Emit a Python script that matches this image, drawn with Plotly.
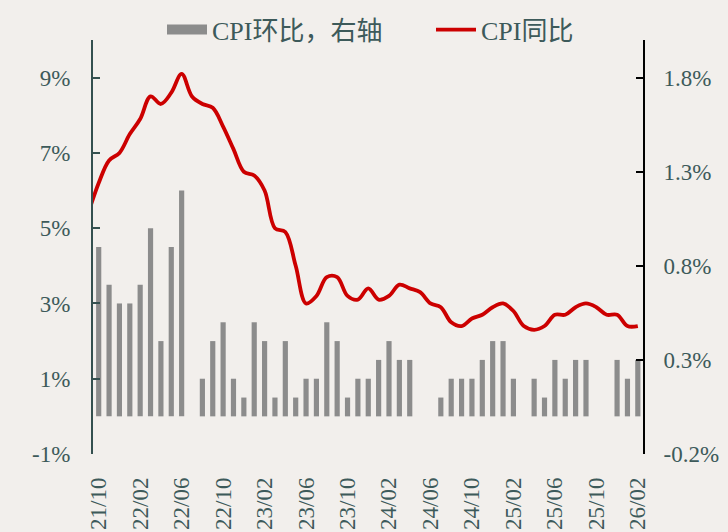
import plotly.graph_objects as go

# Months (index 0 = 21/09, lies just outside the visible range)
months = ["21/09", "21/10", "21/11", "21/12",
          "22/01", "22/02", "22/03", "22/04", "22/05", "22/06", "22/07", "22/08", "22/09", "22/10", "22/11", "22/12",
          "23/01", "23/02", "23/03", "23/04", "23/05", "23/06", "23/07", "23/08", "23/09", "23/10", "23/11", "23/12",
          "24/01", "24/02", "24/03", "24/04", "24/05", "24/06", "24/07", "24/08", "24/09", "24/10", "24/11", "24/12",
          "25/01", "25/02", "25/03", "25/04", "25/05", "25/06", "25/07", "25/08", "25/09", "25/10", "25/11", "25/12",
          "26/01", "26/02"]

# CPI year-over-year (%), left axis
cpi_yoy = [5.4, 6.2, 6.8, 7.0,
           7.5, 7.9, 8.5, 8.3, 8.6, 9.1, 8.5, 8.3, 8.2, 7.7, 7.1, 6.5,
           6.4, 6.0, 5.0, 4.9, 4.0, 3.0, 3.2, 3.7, 3.7, 3.2, 3.1, 3.4,
           3.1, 3.2, 3.5, 3.4, 3.3, 3.0, 2.9, 2.5, 2.4, 2.6, 2.7, 2.9,
           3.0, 2.8, 2.4, 2.3, 2.4, 2.7, 2.7, 2.9, 3.0, 2.9, 2.7, 2.7,
           2.4, 2.4]

# CPI month-over-month (%), right axis
cpi_mom = [0.4, 0.9, 0.7, 0.6,
           0.6, 0.7, 1.0, 0.4, 0.9, 1.2, 0.0, 0.2, 0.4, 0.5, 0.2, 0.1,
           0.5, 0.4, 0.1, 0.4, 0.1, 0.2, 0.2, 0.5, 0.4, 0.1, 0.2, 0.2,
           0.3, 0.4, 0.3, 0.3, 0.0, 0.0, 0.1, 0.2, 0.2, 0.2, 0.3, 0.4,
           0.4, 0.2, 0.0, 0.2, 0.1, 0.3, 0.2, 0.3, 0.3, None, None, 0.3,
           0.2, 0.3]

x_tick_labels = ["21/10", "22/02", "22/06", "22/10", "23/02", "23/06", "23/10",
                 "24/02", "24/06", "24/10", "25/02", "25/06", "25/10", "26/02"]
left_ticks = [-1, 1, 3, 5, 7, 9]
left_tick_text = ["-1%", "1%", "3%", "5%", "7%", "9%"]
right_ticks = [-0.2, 0.3, 0.8, 1.3, 1.8]
right_tick_text = ["-0.2%", "0.3%", "0.8%", "1.3%", "1.8%"]
boundary_ticks = [4.5, 8.5, 12.5, 16.5, 20.5, 24.5, 28.5, 32.5, 36.5, 40.5, 44.5, 48.5, 52.5]

SLATE = "#34504f"
TXT = "#3d5a5a"
BG = "#f2efec"
BAR = "#8c8c8c"
FONT = "Liberation Serif, Noto Sans CJK SC, serif"
XR = [0.45, 53.5]

fig = go.Figure()
fig.add_trace(go.Bar(x=months, y=cpi_mom, name="CPI环比，右轴", yaxis="y2", showlegend=False,
                     marker=dict(color=BAR, line=dict(width=0)), width=0.5))
# legend entry for the bars (wide grey swatch)
fig.add_trace(go.Scatter(x=[None], y=[None], name="CPI环比，右轴", mode="lines",
                         line=dict(color=BAR, width=14), hoverinfo="skip"))
fig.add_trace(go.Scatter(x=months, y=cpi_yoy, name="CPI同比", mode="lines",
                         line=dict(color="#cc0000", width=3.8, shape="spline", smoothing=1.0)))

fig.update_layout(
    width=728, height=532,
    margin=dict(l=93, r=85, t=40, b=78, autoexpand=False),
    paper_bgcolor=BG, plot_bgcolor=BG,
    font=dict(family=FONT, size=23, color=TXT),
    showlegend=True,
    legend=dict(orientation="h", x=(162 - 93) / 550, xanchor="left", y=1.025, yanchor="middle",
                bgcolor="rgba(0,0,0,0)", font=dict(size=26, color=TXT),
                itemwidth=40, entrywidth=214, traceorder="normal"),
    xaxis=dict(type="category", categoryorder="array", categoryarray=months,
               range=XR, tickmode="array", tickvals=x_tick_labels, ticktext=x_tick_labels,
               tickangle=-90, ticks="", showline=False, showgrid=False, zeroline=False,
               ticklabelstandoff=18, tickfont=dict(size=23, color=TXT), automargin=False),
    xaxis2=dict(overlaying="x", anchor="free", position=1 / 11, side="bottom",
                range=XR, tickmode="array", tickvals=boundary_ticks, ticks="inside",
                ticklen=6, tickwidth=2, tickcolor=SLATE, showticklabels=False,
                showline=True, linecolor=SLATE, linewidth=2, showgrid=False, zeroline=False),
    yaxis=dict(range=[-1, 10], tickmode="array", tickvals=left_ticks, ticktext=left_tick_text,
               ticks="inside", ticklen=7, tickwidth=2, tickcolor=SLATE,
               showline=True, linecolor=SLATE, linewidth=2, showgrid=False, zeroline=False,
               ticklabelstandoff=16, tickfont=dict(size=23, color=TXT), automargin=False),
    yaxis2=dict(range=[-0.2, 2.0], overlaying="y", side="right", tickmode="array",
                tickvals=right_ticks, ticktext=right_tick_text,
                ticks="inside", ticklen=7, tickwidth=2, tickcolor="#000000",
                showline=True, linecolor="#000000", linewidth=2, showgrid=False, zeroline=False,
                ticklabelstandoff=14, tickfont=dict(size=23, color=TXT), automargin=False),
    bargap=0.5,
)

fig.write_html("out.html", config={"displayModeBar": False},
               post_script="document.body.style.margin='0';")
